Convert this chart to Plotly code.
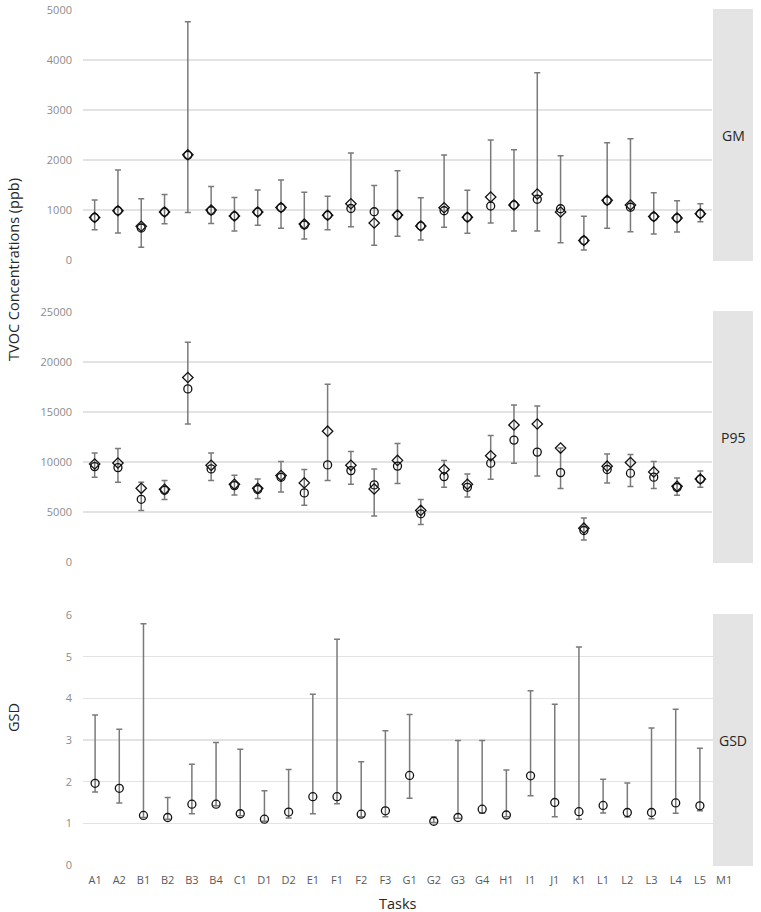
import plotly.graph_objects as go

W, H = 761, 912

categories = ["A1", "A2", "B1", "B2", "B3", "B4", "C1", "D1", "D2", "E1", "F1", "F2", "F3",
              "G1", "G2", "G3", "G4", "H1", "I1", "J1", "K1", "L1", "L2", "L3", "L4", "L5", "M1"]

# GM panel (27 points)
gm_circle = [850, 985, 640, 960, 2095, 985, 880, 960, 1045, 700, 895, 1030, 965,
             895, 680, 985, 855, 1080, 1100, 1215, 1025, 390, 1185, 1055, 865, 840, 925]
gm_diamond = [850, 985, 675, 960, 2105, 1000, 880, 960, 1050, 720, 895, 1125, 740,
              900, 680, 1045, 855, 1260, 1100, 1320, 960, 390, 1195, 1100, 870, 840, 925]
gm_low = [605, 540, 253, 727, 950, 730, 580, 693, 633, 420, 607, 665, 293,
          473, 400, 653, 533, 740, 580, 580, 347, 200, 633, 567, 520, 560, 767]
gm_high = [1200, 1800, 1225, 1310, 4767, 1470, 1250, 1400, 1600, 1353, 1273, 2140, 1490,
           1787, 1247, 2100, 1393, 2400, 2207, 3747, 2087, 873, 2347, 2427, 1347, 1187, 1127]

# P95 panel (27 points)
p95_circle = [9540, 9440, 6270, 7170, 17310, 9310, 7640, 7250, 8470, 6910, 9710, 9140, 7710,
              9590, 4820, 8540, 7470, 9880, 12190, 10990, 8940, 3150, 9250, 8880, 8480, 7450, 8270]
p95_diamond = [9800, 9900, 7370, 7270, 18450, 9670, 7770, 7370, 8640, 7910, 13080, 9670, 7310,
               10160, 5160, 9250, 7770, 10620, 13700, 13800, 11390, 3380, 9580, 9950, 9010, 7570, 8300]
p95_low = [8470, 7970, 5140, 6240, 13810, 8140, 6710, 6340, 7010, 5670, 8140, 7770, 4600,
           7840, 3750, 7470, 6500, 8270, 9880, 8610, 7340, 2210, 7910, 7540, 7340, 6670, 7470]
p95_high = [10900, 11340, 7970, 8140, 21980, 10900, 8670, 8310, 10040, 9240, 17780, 11040, 9310,
            11840, 6260, 10150, 8810, 12660, 15710, 15610, 11390, 4390, 10790, 10750, 10050, 8410, 9110]

# GSD panel (26 points, A1..L5)
gsd_circle = [1.96, 1.84, 1.19, 1.14, 1.46, 1.46, 1.23, 1.10, 1.27, 1.64, 1.64, 1.22, 1.30,
              2.15, 1.05, 1.14, 1.34, 1.20, 2.14, 1.50, 1.28, 1.43, 1.26, 1.26, 1.49, 1.42]
gsd_low = [1.75, 1.49, 1.14, 1.10, 1.23, 1.42, 1.18, 1.05, 1.13, 1.23, 1.47, 1.16, 1.16,
           1.60, 1.02, 1.12, 1.24, 1.16, 1.66, 1.16, 1.10, 1.25, 1.15, 1.11, 1.24, 1.30]
gsd_high = [3.60, 3.26, 5.79, 1.62, 2.42, 2.94, 2.78, 1.78, 2.29, 4.10, 5.42, 2.48, 3.22,
            3.61, 1.15, 2.99, 2.99, 2.28, 4.18, 3.86, 5.23, 2.06, 1.97, 3.29, 3.74, 2.80]

panel_labels = ["GM", "P95", "GSD"]
gm_ticks = [0, 1000, 2000, 3000, 4000, 5000]
p95_ticks = [0, 5000, 10000, 15000, 20000, 25000]
gsd_ticks = [0, 1, 2, 3, 4, 5, 6]

FONT = "Open Sans"
ERR_COLOR = "#7a7a7a"
GRID = "#e3e3e3"
TICK_COLOR = "#8c8c8c"
STRIP = "#e4e4e4"


def px_x(v):
    return v / W


def px_y(v):
    return 1 - v / H


fig = go.Figure()


def add_panel(xs, circ, low, high, diam, xa, ya):
    fig.add_trace(go.Scatter(
        x=xs, y=circ, xaxis=xa, yaxis=ya, mode="markers",
        marker=dict(symbol="circle-open", size=8, color="#111111", line=dict(width=1.3, color="#111111")),
        error_y=dict(type="data", symmetric=False,
                     array=[h - c for h, c in zip(high, circ)],
                     arrayminus=[c - l for c, l in zip(circ, low)],
                     color=ERR_COLOR, thickness=1.5, width=3),
        showlegend=False, hoverinfo="skip"))
    if diam is not None:
        fig.add_trace(go.Scatter(
            x=xs, y=diam, xaxis=xa, yaxis=ya, mode="markers",
            marker=dict(symbol="diamond-open", size=8, color="#111111", line=dict(width=1.3, color="#111111")),
            showlegend=False, hoverinfo="skip"))


add_panel(categories, gm_circle, gm_low, gm_high, gm_diamond, "x", "y")
add_panel(categories, p95_circle, p95_low, p95_high, p95_diamond, "x2", "y2")
add_panel(categories[:len(gsd_circle)], gsd_circle, gsd_low, gsd_high, None, "x3", "y3")

x_left = 83
x_right = 712
gsd_right = x_left + (x_right - x_left) / 26 * 27

panels = [
    (10, 260, [0, 5000], gm_ticks),
    (312, 562, [0, 25000], p95_ticks),
    (615, 865, [0, 6], gsd_ticks),
]

common_x = dict(type="category", categoryorder="array", categoryarray=categories,
                range=[-0.5, 26.5], showgrid=False, zeroline=False, showline=False,
                ticks="", fixedrange=True, automargin=False)

fig.update_layout(
    xaxis=dict(**common_x, domain=[px_x(x_left), px_x(x_right)], anchor="y", showticklabels=False),
    xaxis2=dict(**common_x, domain=[px_x(x_left), px_x(x_right)], anchor="y2", showticklabels=False),
    xaxis3=dict(**common_x, domain=[px_x(x_left), px_x(gsd_right)], anchor="y3", showticklabels=True,
                tickvals=categories, ticktext=categories, ticklabelstandoff=7,
                tickfont=dict(family=FONT, size=11, color="#595959")),
)

for i, (top, bot, rng, tv) in enumerate(panels):
    key = "yaxis" if i == 0 else f"yaxis{i + 1}"
    fig.layout[key] = dict(
        domain=[px_y(bot), px_y(top)], range=rng, anchor="x" if i == 0 else f"x{i + 1}",
        tickvals=tv, ticktext=[str(t) for t in tv], showgrid=True, gridcolor=GRID, gridwidth=1.5,
        zeroline=False, showline=False, ticks="", ticklabelstandoff=10, automargin=False,
        tickfont=dict(family=FONT, size=11, color=TICK_COLOR), fixedrange=True)
    fig.add_shape(type="rect", xref="paper", yref="paper",
                  x0=px_x(713), x1=px_x(753), y0=px_y(bot + 1), y1=px_y(top - 1),
                  fillcolor=STRIP, line=dict(width=0), layer="above")
    fig.add_annotation(text=panel_labels[i], xref="paper", yref="paper",
                       x=px_x(733), y=px_y((top + bot) / 2), showarrow=False,
                       xanchor="center", yanchor="middle",
                       font=dict(family=FONT, size=14, color="#262626"))

fig.add_annotation(text="TVOC Concentrations (ppb)", xref="paper", yref="paper",
                   x=px_x(13), y=px_y(270), textangle=-90, showarrow=False,
                   xanchor="center", yanchor="middle",
                   font=dict(family=FONT, size=14.5, color="#262626"))
fig.add_annotation(text="GSD", xref="paper", yref="paper",
                   x=px_x(13), y=px_y(718), textangle=-90, showarrow=False,
                   xanchor="center", yanchor="middle",
                   font=dict(family=FONT, size=14.5, color="#262626"))
fig.add_annotation(text="Tasks", xref="paper", yref="paper",
                   x=px_x(398), y=px_y(903), showarrow=False,
                   xanchor="center", yanchor="middle",
                   font=dict(family=FONT, size=14.5, color="#262626"))

fig.update_layout(width=W, height=H, margin=dict(l=0, r=0, t=0, b=0, autoexpand=False),
                  paper_bgcolor="white", plot_bgcolor="white")

fig.write_html("out.html", config={"displayModeBar": False, "staticPlot": True},
               post_script="document.body.style.margin='0';document.body.style.overflow='hidden';")
